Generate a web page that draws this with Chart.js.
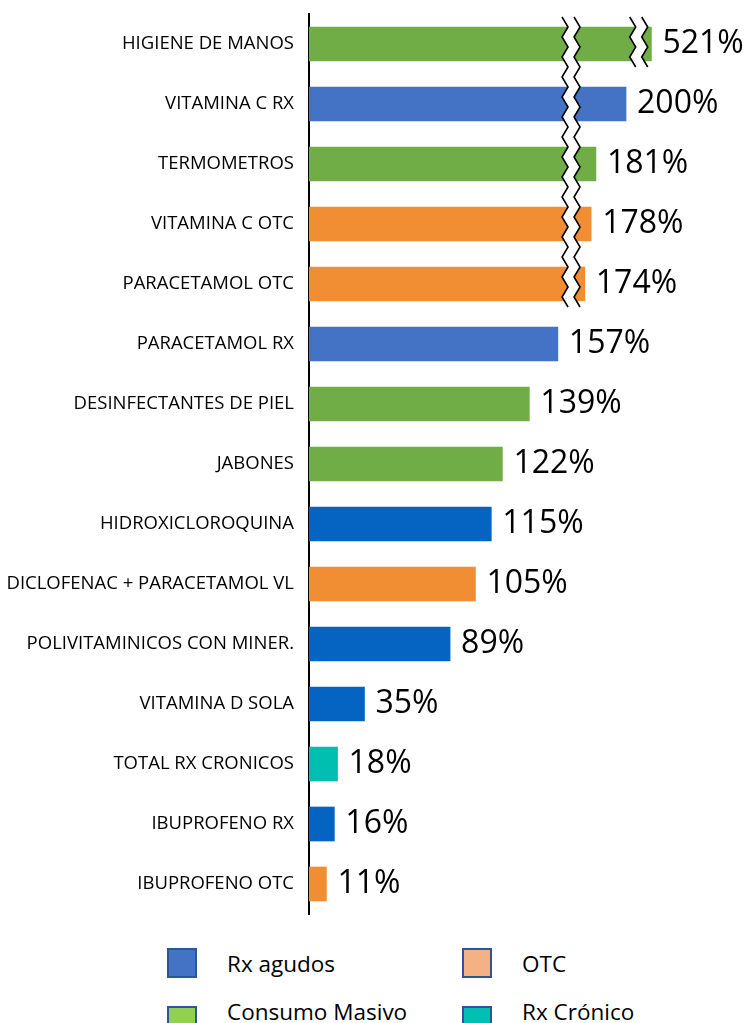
<!DOCTYPE html>
<html>
<head>
<meta charset="utf-8">
<script src="https://cdn.jsdelivr.net/npm/chart.js@4.4.1/dist/chart.umd.min.js"></script>
<style>
  body { margin: 0; background: #fff; font-family: "Open Sans", sans-serif; }
  #wrap { position: absolute; left: 0; top: 0; width: 748px; height: 935px; }
  .lg-box { position: absolute; width: 26px; height: 26px; border: 2px solid #2F5597; }
  .lg-text { position: absolute; font-size: 22.5px; color: #000; line-height: 30px; }
</style>
</head>
<body>
<div id="wrap"><canvas id="chart"></canvas></div>
<div id="legend"></div>
<script>
var categories = ["HIGIENE DE MANOS", "VITAMINA C RX", "TERMOMETROS", "VITAMINA C OTC", "PARACETAMOL OTC",
    "PARACETAMOL RX", "DESINFECTANTES DE PIEL", "JABONES", "HIDROXICLOROQUINA", "DICLOFENAC + PARACETAMOL VL",
    "POLIVITAMINICOS CON MINER.", "VITAMINA D SOLA", "TOTAL RX CRONICOS", "IBUPROFENO RX", "IBUPROFENO OTC"];
var values = [521, 200, 181, 178, 174, 157, 139, 122, 115, 105, 89, 35, 18, 16, 11];
var barColors = ["#70AD47", "#4472C4", "#70AD47", "#F18D32", "#F18D32",
    "#4472C4", "#70AD47", "#70AD47", "#0563C1", "#F18D32",
    "#0563C1", "#0563C1", "#00BFB0", "#0563C1", "#F18D32"];
var legendNames = ["Rx agudos", "OTC", "Consumo Masivo", "Rx Crónico"];
var legendColors = ["#4472C4", "#F4B183", "#92D050", "#00BFB3"];

// the axis is cut: bars longer than this are drawn at this length
var breakCap = 216;
// break marks: value on the axis, first and last category they cross
var breaks = [
    {at: 165.3, from: 0, to: 4},
    {at: 208, from: 0, to: 0}
];

var plotted = values.map(function (v) { return Math.min(v, breakCap); });

var valueLabels = {
    id: 'valueLabels',
    afterDatasetsDraw: function (chart) {
        var ctx = chart.ctx;
        var meta = chart.getDatasetMeta(0);
        ctx.save();
        ctx.font = '32px "Open Sans"';
        ctx.fillStyle = '#000';
        ctx.textBaseline = 'middle';
        ctx.textAlign = 'left';
        meta.data.forEach(function (bar, i) {
            ctx.fillText(values[i] + '%', bar.x + 11, bar.y);
        });
        ctx.restore();
    }
};

function zigPoints(x, y0, y1) {
    var pts = [];
    var step = 10, amp = 3, k = 0;
    for (var y = y0; y <= y1; y += step) {
        pts.push([x + (k % 2 ? amp : -amp), y]);
        k++;
    }
    return pts;
}

var breakMarks = {
    id: 'breakMarks',
    afterDatasetsDraw: function (chart) {
        var ctx = chart.ctx;
        var xs = chart.scales.x, ys = chart.scales.y;
        ctx.save();
        breaks.forEach(function (b) {
            var cx = xs.getPixelForValue(b.at);
            var y0 = ys.getPixelForValue(b.from) - 27;
            var y1 = ys.getPixelForValue(b.to) + 27;
            var left = zigPoints(cx - 6, y0, y1);
            var right = zigPoints(cx + 6, y0, y1);
            ctx.beginPath();
            left.forEach(function (p, i) { i ? ctx.lineTo(p[0], p[1]) : ctx.moveTo(p[0], p[1]); });
            right.slice().reverse().forEach(function (p) { ctx.lineTo(p[0], p[1]); });
            ctx.closePath();
            ctx.fillStyle = '#fff';
            ctx.fill();
            ctx.strokeStyle = '#000';
            ctx.lineWidth = 1.6;
            [left, right].forEach(function (line) {
                ctx.beginPath();
                line.forEach(function (p, i) { i ? ctx.lineTo(p[0], p[1]) : ctx.moveTo(p[0], p[1]); });
                ctx.stroke();
            });
        });
        ctx.restore();
    }
};

var config = {
    type: 'bar',
    data: {
        labels: categories,
        datasets: [{
            data: plotted,
            backgroundColor: barColors,
            barThickness: 34
        }]
    },
    options: {
        indexAxis: 'y',
        responsive: true,
        maintainAspectRatio: false,
        animation: false,
        layout: {padding: {top: 14, bottom: 21, right: 11, left: 0}},
        plugins: {legend: {display: false}, tooltip: {enabled: false}},
        scales: {
            x: {display: false, min: 0, max: 270},
            y: {
                grid: {display: false, drawTicks: false},
                border: {display: true, color: '#000', width: 2},
                ticks: {color: '#000', padding: 15, font: {family: 'Open Sans', size: 18.5}},
                afterFit: function (scale) {
                    scale.width = 309;
                    scale.paddingTop = 0;
                    scale.paddingBottom = 0;
                }
            }
        }
    },
    plugins: [breakMarks, valueLabels]
};

var legendPos = [[167, 948], [462, 948], [167, 1006], [462, 1006]];
var legendTextTop = [949, 949, 997, 997];
var lg = document.getElementById('legend');
legendNames.forEach(function (name, i) {
    var box = document.createElement('div');
    box.className = 'lg-box';
    box.style.left = legendPos[i][0] + 'px';
    box.style.top = legendPos[i][1] + 'px';
    box.style.background = legendColors[i];
    lg.appendChild(box);
    var t = document.createElement('div');
    t.className = 'lg-text';
    t.textContent = name;
    t.style.left = (legendPos[i][0] + 60) + 'px';
    t.style.top = legendTextTop[i] + 'px';
    lg.appendChild(t);
});

var ctx = document.getElementById('chart').getContext('2d');
window.barChart = new Chart(ctx, config);
</script>
</body>
</html>
